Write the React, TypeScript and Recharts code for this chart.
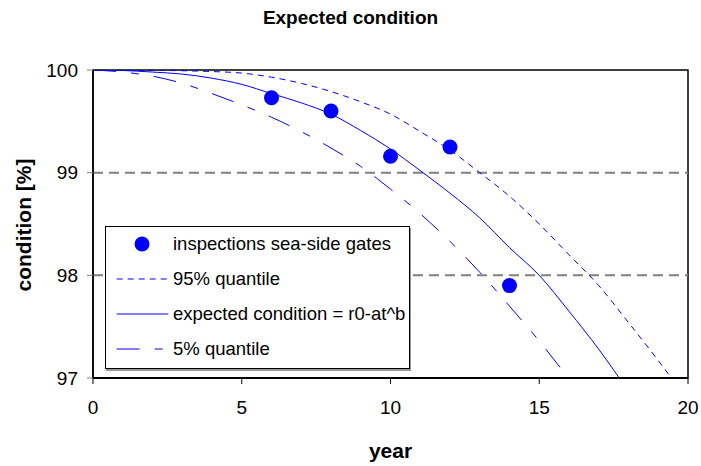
import React from 'react';
import {
  ComposedChart,
  Line,
  Scatter,
  XAxis,
  YAxis,
  ReferenceLine,
  ReferenceArea,
  Legend,
  Label,
} from 'recharts';

const FONT = '"Liberation Sans", Arial, Helvetica, sans-serif';

const years = [0, 1, 2, 3, 4, 5, 6, 7, 8, 9, 10, 11, 12, 13, 14, 15, 16, 17, 18, 19, 20];
const expectedCondition = [
  100, 99.995, 99.98, 99.96, 99.92, 99.86, 99.77, 99.68, 99.57, 99.41, 99.23,
  99.02, 98.8, 98.56, 98.27, 98.0, 97.65, 97.28, 96.87, null, null,
];
const quantile95 = [
  100, 99.999, 99.997, 99.993, 99.985, 99.97, 99.93, 99.87, 99.79, 99.69, 99.57,
  99.4, 99.22, 99.0, 98.77, 98.5, 98.2, 97.9, 97.54, 97.17, 96.78,
];
const quantile5 = [
  100, 99.98, 99.94, 99.87, 99.77, 99.66, 99.54, 99.4, 99.24, 99.06, 98.84,
  98.6, 98.33, 98.03, 97.7, 97.36, 96.99, 96.6, null, null, null,
];
const inspectionYears = [6, 8, 10, 12, 14];
const inspectionValues = [99.73, 99.6, 99.16, 99.25, 97.9];
const xTicks = [0, 5, 10, 15, 20];
const yTicks = [97, 98, 99, 100];
const gridValues = [98, 99];

const data = years.map((t, i) => ({
  t,
  expected: expectedCondition[i],
  upper: quantile95[i],
  lower: quantile5[i],
}));
const inspections = inspectionYears.map((t, i) => ({ t, value: inspectionValues[i] }));

const BLUE = '#0000ff';
const DASH95 = '6 5';
const DASH5 = '23 15 8 15';

const legendRows = [
  { key: 'dot', label: 'inspections sea-side gates' },
  { key: 'q95', label: '95% quantile' },
  { key: 'exp', label: 'expected condition = r0-at^b' },
  { key: 'q5', label: '5% quantile' },
];

const renderLegend = () => (
  <div
    style={{
      width: 303,
      height: 141,
      border: '1px solid #000',
      background: '#fff',
      boxShadow: '1px 2px 0 #999',
      fontFamily: FONT,
      fontSize: 18.5,
      color: '#000',
      paddingTop: 0,
      boxSizing: 'content-box',
    }}
  >
    {legendRows.map((r) => (
      <div key={r.key} style={{ display: 'flex', alignItems: 'center', height: 34.8 }}>
        <svg width={67} height={20} style={{ display: 'block', flex: 'none' }}>
          {r.key === 'dot' && <circle cx={36} cy={10} r={7.5} fill={BLUE} />}
          {r.key === 'q95' && (
            <line x1={10.7} y1={10} x2={62.3} y2={10} stroke={BLUE} strokeWidth={1} strokeDasharray={DASH95} />
          )}
          {r.key === 'exp' && <line x1={10.7} y1={10} x2={62.3} y2={10} stroke={BLUE} strokeWidth={1} />}
          {r.key === 'q5' && (
            <line x1={10.7} y1={10} x2={62.3} y2={10} stroke={BLUE} strokeWidth={1} strokeDasharray={DASH5} />
          )}
        </svg>
        <span style={{ whiteSpace: 'nowrap' }}>{r.label}</span>
      </div>
    ))}
  </div>
);

const yLabel = (props: any) => {
  const vb = props.viewBox || { x: 0, y: 70, width: 93, height: 308 };
  const cx = 23;
  const cy = vb.y + vb.height / 2 + 1;
  return (
    <text
      x={cx}
      y={cy}
      transform={`rotate(-90 ${cx} ${cy})`}
      textAnchor="middle"
      dominantBaseline="central"
      style={{ fontFamily: FONT, fontSize: 21, fontWeight: 'bold', fill: '#000' }}
    >
      condition [%]
    </text>
  );
};

export default function App() {
  return (
    <div
      style={{
        position: 'absolute',
        left: 0,
        top: 0,
        width: 701,
        height: 466,
        background: '#fff',
        fontFamily: FONT,
      }}
    >
      <div
        style={{
          position: 'absolute',
          left: 0,
          top: 7,
          width: 701,
          textAlign: 'center',
          fontWeight: 'bold',
          fontSize: 19,
          lineHeight: '22px',
          color: '#000',
          zIndex: 2,
        }}
      >
        Expected condition
      </div>
      <ComposedChart width={701} height={466} data={data} margin={{ top: 70, right: 13, left: 0, bottom: 0 }}>
        <XAxis
          type="number"
          dataKey="t"
          domain={[0, 20]}
          ticks={xTicks}
          interval={0}
          allowDataOverflow
          height={88}
          tickSize={6}
          tickMargin={17}
          axisLine={{ stroke: '#000', strokeWidth: 2 }}
          tickLine={{ stroke: '#000' }}
          tick={{ fill: '#000', fontSize: 19, fontFamily: FONT }}
        >
          <Label
            value="year"
            position="insideBottom"
            offset={8}
            style={{ fontWeight: 'bold', fontSize: 21, fill: '#000', fontFamily: FONT }}
          />
        </XAxis>
        <YAxis
          type="number"
          domain={[97, 100]}
          ticks={yTicks}
          interval={0}
          allowDataOverflow
          width={93}
          tickSize={6}
          tickMargin={9}
          axisLine={{ stroke: '#000', strokeWidth: 1.5 }}
          tickLine={{ stroke: '#808080' }}
          tick={{ fill: '#000', fontSize: 19, fontFamily: FONT }}
        >
          <Label content={yLabel} />
        </YAxis>
        {gridValues.map((v) => (
          <ReferenceLine key={v} y={v} stroke="#808080" strokeWidth={2} strokeDasharray="10 6" />
        ))}
        <ReferenceArea
          x1={0}
          x2={20}
          y1={97}
          y2={100}
          fill="none"
          fillOpacity={0}
          stroke="#000"
          strokeWidth={1.5}
          ifOverflow="visible"
        />
        <Line
          type="monotone"
          dataKey="upper"
          stroke={BLUE}
          strokeWidth={1}
          strokeDasharray={DASH95}
          dot={false}
          activeDot={false}
          isAnimationActive={false}
        />
        <Line
          type="monotone"
          dataKey="expected"
          stroke={BLUE}
          strokeWidth={1}
          dot={false}
          activeDot={false}
          isAnimationActive={false}
        />
        <Line
          type="monotone"
          dataKey="lower"
          stroke={BLUE}
          strokeWidth={1}
          strokeDasharray={DASH5}
          dot={false}
          activeDot={false}
          isAnimationActive={false}
        />
        <Scatter
          data={inspections}
          dataKey="value"
          fill={BLUE}
          shape={(p: any) => <circle cx={p.cx} cy={p.cy} r={7.5} fill={BLUE} />}
          isAnimationActive={false}
        />
        <Legend
          layout="horizontal"
          verticalAlign="middle"
          align="center"
          content={renderLegend}
          wrapperStyle={{ position: 'absolute', left: 105, top: 226, width: 305, height: 143 }}
        />
      </ComposedChart>
    </div>
  );
}
